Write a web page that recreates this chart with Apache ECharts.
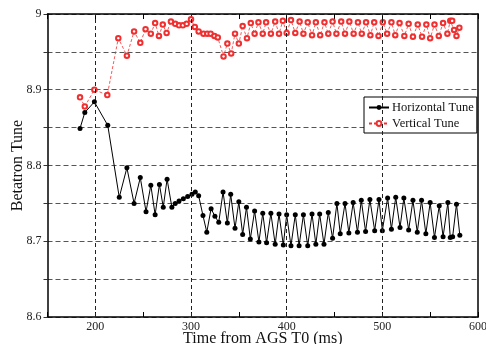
<!DOCTYPE html>
<html>
<head>
<meta charset="utf-8">
<script src="https://cdn.jsdelivr.net/npm/echarts@6/dist/echarts.min.js"></script>
<style>html,body{margin:0;padding:0;background:#fff;}#c{width:486px;height:344px;}</style>
</head>
<body>
<div id="c"></div>
<script>
const hTime = [184,189,199,213,225,233,240.5,247,253,258,262.5,267,271,275,280,283.5,287.5,292,296.5,301,304.5,308,312.5,316.5,321,325,329,333.5,338,341.5,346,350,354,358,362,366.5,371,375,379,383.5,388,392,396.5,400,404.5,409,413,417.5,422,426.5,430.5,434.5,439,443.5,448,452.5,456,461,465,469.5,474,478,482.5,487,492,496.5,500,505.5,509.5,514,518.5,522.5,527.5,532,536.5,541,545.5,550,554.5,559.5,563.5,568.5,571,573.5,577.5,581];
const hTune = [8.849,8.870,8.884,8.853,8.758,8.797,8.750,8.784,8.739,8.774,8.735,8.775,8.745,8.782,8.745,8.750,8.753,8.756,8.759,8.762,8.765,8.760,8.734,8.712,8.743,8.733,8.725,8.765,8.724,8.762,8.717,8.752,8.709,8.745,8.703,8.740,8.699,8.737,8.698,8.737,8.696,8.736,8.695,8.735,8.694,8.735,8.694,8.735,8.694,8.736,8.696,8.736,8.696,8.738,8.704,8.750,8.710,8.750,8.711,8.751,8.712,8.754,8.713,8.755,8.714,8.755,8.714,8.757,8.716,8.758,8.718,8.757,8.715,8.754,8.712,8.754,8.710,8.751,8.705,8.747,8.706,8.751,8.705,8.706,8.749,8.708];
const vTime = [184,189,199,212.5,224,233,240.5,247,252.5,258,262.5,266.5,270.5,274.5,279,283.5,287.5,291.5,295.5,300,304,308,313,317,320.5,324.5,328,334,338,342,346,350,354,358.5,362.5,366.5,370.5,375,378.5,383.5,388,392,396,400,404.5,409,413.5,417.5,422,426.5,430.5,435,439.5,443.5,448,452,457,461,465.5,470,474.5,478.5,483,487.5,491.5,496,500.5,505,509.5,513.5,518,523,527.5,532,537,541.5,546,550,554.5,559,563.5,568,571,573,575,577.5,580.5];
const vTune = [8.890,8.878,8.900,8.893,8.968,8.945,8.977,8.962,8.980,8.974,8.988,8.971,8.986,8.975,8.990,8.987,8.985,8.985,8.987,8.993,8.983,8.977,8.974,8.974,8.974,8.971,8.969,8.944,8.961,8.948,8.974,8.961,8.984,8.968,8.988,8.974,8.989,8.974,8.989,8.974,8.990,8.974,8.991,8.975,8.992,8.975,8.990,8.974,8.989,8.972,8.989,8.972,8.989,8.974,8.990,8.974,8.990,8.974,8.990,8.974,8.989,8.974,8.989,8.972,8.989,8.971,8.989,8.974,8.989,8.972,8.988,8.971,8.987,8.970,8.986,8.970,8.986,8.968,8.986,8.971,8.988,8.974,8.991,8.991,8.979,8.971,8.982];
const xGridValues = [200,300,400,500];
const xLabelValues = [200,300,400,500,600];
const yLabelValues = [8.6,8.7,8.8,8.9,9];
const seriesNames = ['Horizontal Tune','Vertical Tune'];

const FONT = 'Liberation Serif';
const chart = echarts.init(document.getElementById('c'), null, {renderer:'canvas'});
const xFmt = v => xLabelValues.some(x => Math.abs(x - v) < 1e-6) ? String(v) : '';
const yFmt = v => {
  const m = yLabelValues.find(y => Math.abs(y - v) < 1e-6);
  return m === undefined ? '' : (m === 9 ? '9' : m.toFixed(1));
};
const border = {show:true, lineStyle:{color:'#000', width:1.5}};
chart.setOption({
  animation:false,
  backgroundColor:'#fff',
  grid:{left:47.5, right:8, top:14, bottom:27, containLabel:false, outerBoundsMode:'none'},
  legend:{
    data:seriesNames, orient:'vertical', left:364, top:97,
    padding:[4,3,3,4], itemGap:3, itemWidth:20, itemHeight:6,
    borderColor:'#000', borderWidth:1, backgroundColor:'#fff',
    textStyle:{fontFamily:FONT, fontSize:12.5, color:'#111', padding:[0,0,0,-2]}
  },
  xAxis:[
    {type:'value', min:150, max:600, interval:50, position:'bottom',
     axisLine:border, axisTick:{show:true, inside:true, length:5, lineStyle:{color:'#000'}},
     axisLabel:{formatter:xFmt, fontFamily:FONT, fontSize:12, color:'#222', margin:4},
     splitLine:{show:false},
     name:'Time from AGS T0 (ms)', nameLocation:'middle', nameGap:14, nameMoveOverlap:false,
     nameTextStyle:{fontFamily:FONT, fontSize:16, color:'#111'}},
    {type:'value', min:150, max:600, interval:50, position:'top',
     axisLine:border, axisTick:{show:true, inside:true, length:5, lineStyle:{color:'#000'}},
     axisLabel:{show:false}, splitLine:{show:false}}
  ],
  yAxis:[
    {type:'value', min:8.6, max:9, interval:0.05, position:'left',
     axisLine:border, axisTick:{show:true, inside:false, length:4, lineStyle:{color:'#333'}},
     axisLabel:{formatter:yFmt, fontFamily:FONT, fontSize:12, color:'#222', margin:6},
     splitLine:{show:true, lineStyle:{type:[5,3], color:'#555', width:1}},
     name:'Betatron Tune', nameLocation:'middle', nameGap:22, nameMoveOverlap:false,
     nameTextStyle:{fontFamily:FONT, fontSize:16, color:'#111'}},
    {type:'value', min:8.6, max:9, interval:0.05, position:'right',
     axisLine:border, axisTick:{show:false}, axisLabel:{show:false}, splitLine:{show:false}}
  ],
  series:[
    {type:'line', name:'grid', data:[], z:1, silent:true,
     markLine:{silent:true, symbol:'none', label:{show:false},
       lineStyle:{type:[4,3], color:'#222', width:1},
       data:xGridValues.map(v => ({xAxis:v}))}},
    {type:'line', name:seriesNames[0], z:3,
     data:hTime.map((t,i) => [t, hTune[i]]),
     symbol:'circle', symbolSize:5,
     lineStyle:{color:'#000', width:1},
     itemStyle:{color:'#000'}},
    {type:'line', name:seriesNames[1], z:4,
     data:vTime.map((t,i) => [t, vTune[i]]),
     symbol:'emptyCircle', symbolSize:4.5,
     lineStyle:{color:'#f03030', width:0.8, type:[3,2]},
     itemStyle:{color:'#f03030', borderColor:'#f03030', borderWidth:0.9}}
  ]
});
</script>
</body>
</html>
